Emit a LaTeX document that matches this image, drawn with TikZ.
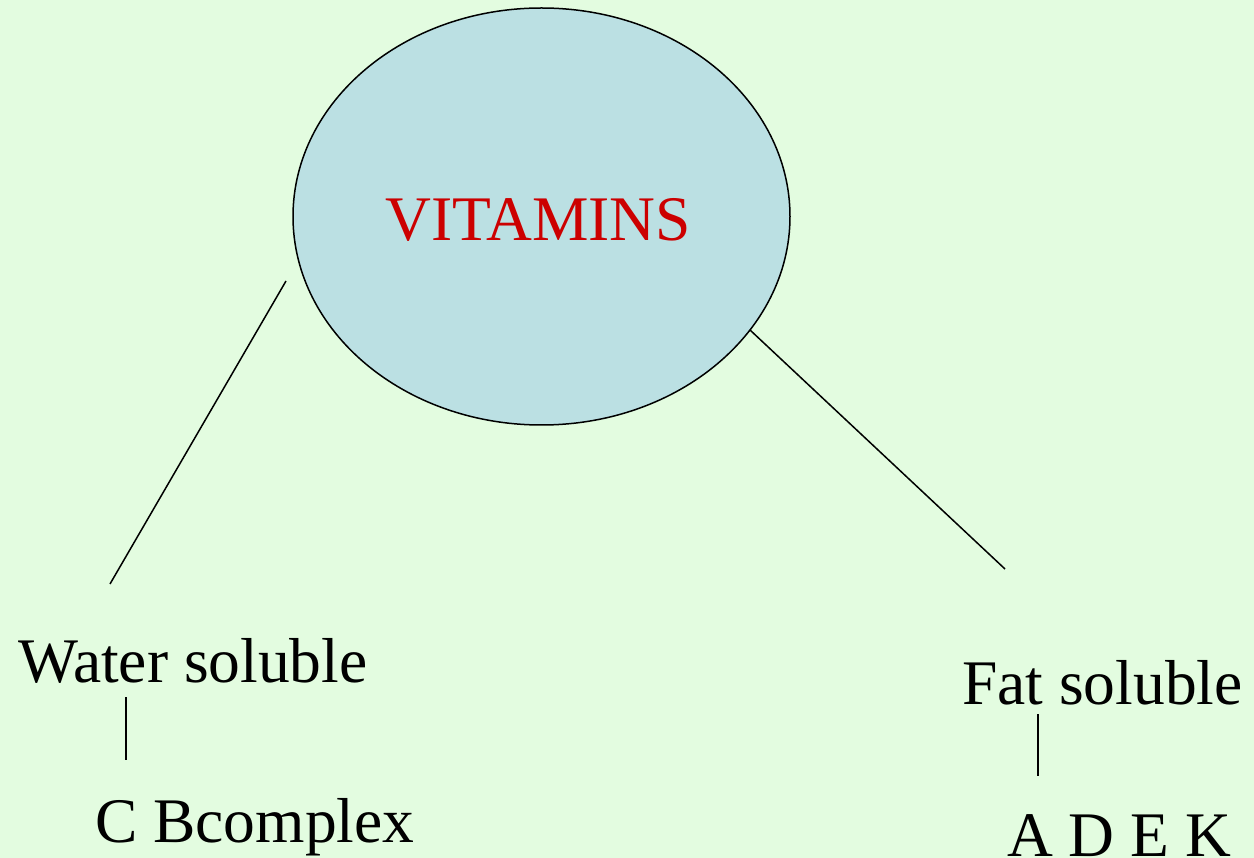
\documentclass[tikz,border=0pt]{standalone}
\usepackage{fontspec}
\setmainfont{Liberation Serif}
\usetikzlibrary{shapes.geometric}
\definecolor{bgcol}{HTML}{E3FCE0}
\definecolor{ellcol}{HTML}{BBE0E3}
\definecolor{titlecol}{HTML}{CC0000}
\begin{document}
\begin{tikzpicture}[x=1pt,y=-1pt,
  lbl/.style={anchor=base west,inner sep=0pt,font=\fontsize{63.5}{70}\selectfont},
  conn/.style={line width=1.5pt,black}]
\fill[bgcol] (0,0) rectangle (1254,858);
\useasboundingbox (0,0) rectangle (1254,858);
\node[ellipse,draw,line width=1.5pt,fill=ellcol,minimum width=497pt,minimum height=417pt,inner sep=0pt] (vit) at (541.5,216.5) {};
\node[anchor=base,inner sep=0pt,text=titlecol,font=\fontsize{63.5}{70}\selectfont] (vtext) at (538.5,241) {VITAMINS};
\node[lbl] (water) at (18,682) {Water soluble};
\node[lbl] (cb) at (95,842) {C Bcomplex};
\node[lbl] (fat) at (962,704) {Fat soluble};
\node[lbl] (adek) at (1007,856) {A D E K};
\coordinate (l1a) at (286,281);
\coordinate (l1b) at (110,584);
\coordinate (l2a) at (750,330);
\coordinate (l2b) at (1005,569);
\coordinate (w1) at (126,697);
\coordinate (w2) at (126,760);
\coordinate (f1) at (1038,714);
\coordinate (f2) at (1038,776);
\draw[conn] (l1a) -- (l1b);
\draw[conn] (l2a) -- (l2b);
\draw[conn] (w1) -- (w2);
\draw[conn] (f1) -- (f2);
\end{tikzpicture}
\end{document}
